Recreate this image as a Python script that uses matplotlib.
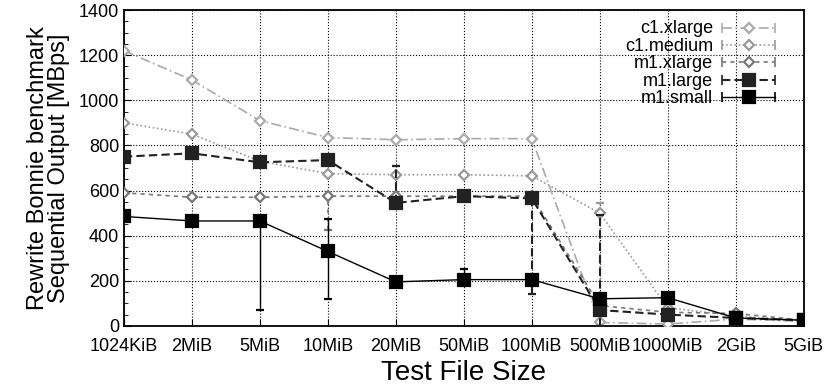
import numpy as np
import matplotlib.pyplot as plt
from matplotlib.lines import Line2D
from matplotlib.legend_handler import HandlerLine2D

plt.rcParams['font.family'] = ['Liberation Sans', 'DejaVu Sans']

# test file sizes
sizes = ['1024KiB', '2MiB', '5MiB', '10MiB', '20MiB', '50MiB', '100MiB',
         '500MiB', '1000MiB', '2GiB', '5GiB']

c1_xlarge = [1220, 1090, 910, 835, 825, 830, 830, 15, 8, 30, 20]
c1_medium = [900, 850, 730, 675, 670, 670, 665, 500, 80, 45, 20]
m1_xlarge = [590, 570, 570, 575, 575, 575, 575, 90, 60, 55, 25]
m1_large = [750, 765, 725, 735, 545, 575, 565, 70, 50, 35, 25]
m1_small = [485, 465, 465, 330, 195, 205, 205, 120, 125, 35, 25]

# error bars (lower, upper) as distances from the mean
c1_medium_err = [[0, 0, 0, 0, 0, 0, 0, 500, 0, 0, 0],
                 [0, 0, 0, 0, 0, 0, 0, 45, 0, 0, 0]]
m1_xlarge_err = [[0, 0, 0, 150, 0, 0, 0, 0, 0, 0, 0],
                 [0, 0, 0, 0, 0, 0, 0, 0, 0, 0, 0]]
m1_large_err = [[0, 0, 0, 0, 0, 0, 425, 70, 0, 0, 0],
                [0, 0, 0, 0, 165, 0, 0, 420, 0, 0, 0]]
m1_small_err = [[0, 0, 395, 210, 0, 0, 0, 0, 0, 0, 0],
                [0, 0, 0, 145, 0, 45, 0, 0, 0, 0, 0]]


class CapHandler(HandlerLine2D):
    # gnuplot style key: line + marker with small end caps
    def create_artists(self, legend, orig_handle, xdescent, ydescent,
                       width, height, fontsize, trans):
        arts = super().create_artists(legend, orig_handle, xdescent, ydescent,
                                      width, height, fontsize, trans)
        y = (height - ydescent) / 2
        caps = Line2D([-xdescent, -xdescent + width], [y, y], ls='none',
                      marker='|', ms=7, mew=1.2, color=orig_handle.get_color(),
                      transform=trans)
        return list(arts) + [caps]


x = np.arange(len(sizes))

fig, ax = plt.subplots(figsize=(8.26, 3.87), dpi=100)
fig.subplots_adjust(left=0.150, right=0.973, bottom=0.158, top=0.974)

styles = [
    (c1_xlarge, None, 'c1.xlarge', '#aaaaaa', (0, (6, 2, 1, 2)), 'D', 5.5, 'white', 1.2),
    (c1_medium, c1_medium_err, 'c1.medium', '#999999', (0, (1, 1.5)), 'D', 5.5, 'white', 1.2),
    (m1_xlarge, m1_xlarge_err, 'm1.xlarge', '#777777', (0, (2.5, 2.5)), 'D', 5.5, 'white', 1.2),
    (m1_large, m1_large_err, 'm1.large', '#222222', (0, (4, 2)), 's', 9, '#222222', 1.5),
    (m1_small, m1_small_err, 'm1.small', 'black', '-', 's', 9, 'black', 1.0),
]

handles = []
for i, (vals, err, lab, col, ls, mk, ms, mfc, lw) in enumerate(styles):
    cont = ax.errorbar(x, vals, yerr=err, color=col, ls=ls, lw=lw, marker=mk,
                       ms=ms, mfc=mfc, mec=col, mew=1.6, capsize=3,
                       zorder=3 + i)
    for bar in cont[2]:
        bar.set_linestyle(ls)
    h = Line2D([], [], color=col, ls=ls, lw=lw, marker=mk, ms=ms, mfc=mfc,
               mec=col, mew=1.6)
    handles.append((h, lab))

ax.set_xlim(0, 10)
ax.set_ylim(0, 1400)
ax.set_xticks(x)
ax.set_xticklabels(sizes, fontsize=13)
ax.set_yticks(range(0, 1401, 200))
ax.set_yticks(range(0, 1401, 50), minor=True)
ax.tick_params(axis='y', labelsize=13)
ax.tick_params(direction='in', which='both')
ax.tick_params(which='major', length=5)
ax.tick_params(which='minor', length=3)
ax.tick_params(axis='x', pad=9)
ax.grid(True, which='major', ls=':', color='black', lw=0.8)
for s in ax.spines.values():
    s.set_linewidth(1.3)

ax.set_xlabel('Test File Size', fontsize=20, labelpad=3)
ax.set_ylabel('Rewrite Bonnie benchmark\nSequential Output [MBps]',
              fontsize=17, linespacing=0.95, labelpad=6)

# with markerfirst=False the key rows are right aligned against the handles
ax.legend([h for h, _ in handles], [l for _, l in handles],
          handler_map={Line2D: CapHandler()},
          loc='upper right', bbox_to_anchor=(0.968, 0.99),
          borderaxespad=0, frameon=False, markerfirst=False,
          fontsize=13, handlelength=2.9, labelspacing=0.02,
          handleheight=0.5, handletextpad=0.5)

fig.savefig('out.png', dpi=100)
